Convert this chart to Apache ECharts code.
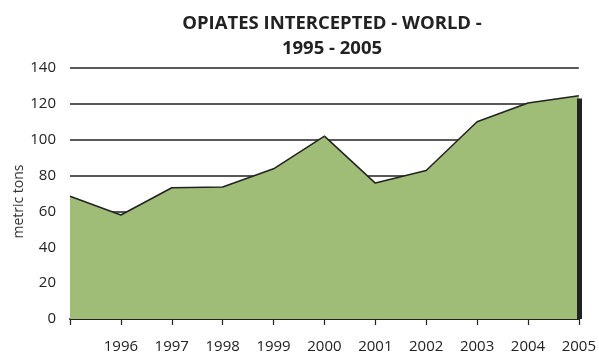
<!DOCTYPE html>
<html>
<head>
<meta charset="utf-8">
<script src="https://cdn.jsdelivr.net/npm/echarts@6/dist/echarts.min.js"></script>
<style>
html,body{margin:0;padding:0;background:#fff;}
#chart{width:599px;height:358px;}
</style>
</head>
<body>
<div id="chart"></div>
<script>
var years = ['1995','1996','1997','1998','1999','2000','2001','2002','2003','2004','2005'];
var tons = [68.5, 58, 73.2, 73.6, 83.8, 102, 75.8, 82.8, 110, 120.5, 124.5];
var yTicks = {min: 0, max: 140, interval: 20};
var titleText = 'OPIATES INTERCEPTED - WORLD -\n1995 - 2005';
var yName = 'metric tons';

var chart = echarts.init(document.getElementById('chart'), null, {renderer: 'canvas'});
var last = years.length - 1;
chart.setOption({
  animation: false,
  backgroundColor: '#ffffff',
  title: {
    text: titleText,
    left: 327, top: 6, textAlign: 'center',
    textStyle: {fontFamily: 'Open Sans', fontWeight: 'bold', fontSize: 18.5, lineHeight: 25, color: '#222'}
  },
  graphic: [{
    type: 'text',
    x: 19.5, y: 201.5,
    rotation: Math.PI / 2,
    style: {
      text: yName, fontFamily: 'Open Sans', fontSize: 14, fill: '#333',
      align: 'center', verticalAlign: 'middle'
    }
  }],
  grid: {left: 70, right: 19, top: 68, bottom: 39},
  xAxis: {
    type: 'category',
    data: years,
    boundaryGap: false,
    axisLine: {show: true, lineStyle: {color: '#222', width: 2}},
    axisTick: {show: true, length: 6, interval: 0, lineStyle: {color: '#222', width: 1.2}},
    axisLabel: {
      interval: 0, margin: 20, fontFamily: 'Open Sans', fontSize: 15, color: '#222',
      formatter: function (v, i) { return i === 0 ? '' : v; }
    },
    splitLine: {show: false}
  },
  yAxis: {
    type: 'value',
    min: yTicks.min, max: yTicks.max, interval: yTicks.interval,
    axisLine: {show: false},
    axisTick: {show: false},
    axisLabel: {margin: 14, fontFamily: 'Open Sans', fontSize: 15, color: '#222'},
    splitLine: {show: true, lineStyle: {color: '#222', width: 1.6}}
  },
  series: [{
    type: 'line',
    data: tons,
    symbol: 'none',
    z: 3,
    lineStyle: {color: '#222', width: 1.5},
    areaStyle: {color: '#a0bd78', opacity: 1},
    markLine: {
      silent: true,
      symbol: ['none', 'none'],
      label: {show: false},
      lineStyle: {color: '#222', width: 5, type: 'solid'},
      data: [[{coord: [years[last], 0]}, {coord: [years[last], tons[last] - 1.5]}]]
    }
  }]
});
</script>
</body>
</html>
